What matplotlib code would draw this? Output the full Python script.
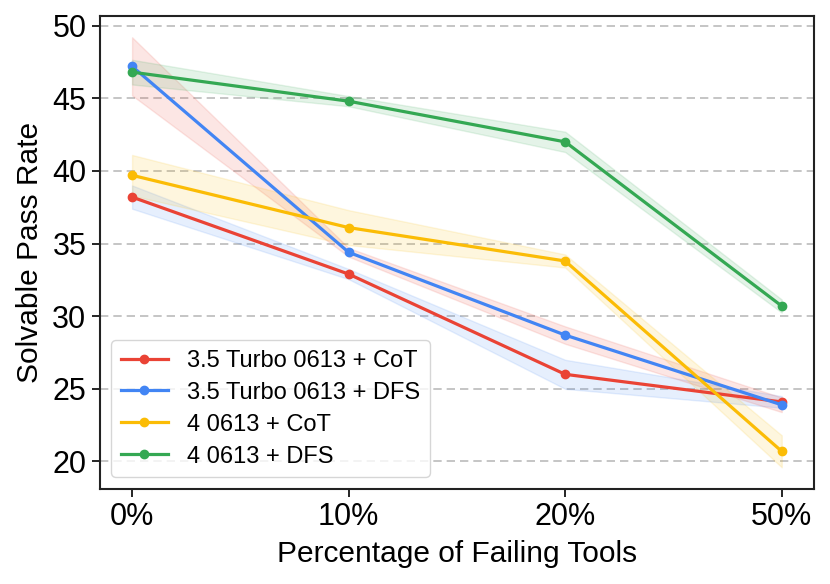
import matplotlib
matplotlib.use("Agg")
import matplotlib.pyplot as plt
import numpy as np

plt.rcParams['font.family'] = ['Liberation Sans', 'DejaVu Sans']

x_labels = ["0%", "10%", "20%", "50%"]
series_names = ["3.5 Turbo 0613 + CoT", "3.5 Turbo 0613 + DFS", "4 0613 + CoT", "4 0613 + DFS"]
colors = ["#EA4335", "#4285F4", "#FBBC05", "#34A853"]

turbo_cot = [38.2, 32.9, 26.0, 24.1]
turbo_dfs = [47.2, 34.4, 28.7, 23.9]
gpt4_cot = [39.7, 36.1, 33.8, 20.7]
gpt4_dfs = [46.8, 44.8, 42.0, 30.7]

turbo_cot_err = [0.8, 0.35, 1.0, 0.4]
turbo_dfs_err = [2.0, 0.3, 0.6, 0.5]
gpt4_cot_err = [1.4, 1.2, 0.45, 1.1]
gpt4_dfs_err = [0.85, 0.35, 0.7, 0.45]

values = [turbo_cot, turbo_dfs, gpt4_cot, gpt4_dfs]
errs = [turbo_cot_err, turbo_dfs_err, gpt4_cot_err, gpt4_dfs_err]
# band colours in the reference are swapped for the first two series
band_colors = [colors[1], colors[0], colors[2], colors[3]]

fig = plt.figure(figsize=(8.3, 5.84), dpi=100)
ax = fig.add_axes([0.12, 0.163, 0.861, 0.81])

xs = np.arange(len(x_labels))
for name, v, e, c, bc in zip(series_names, values, errs, colors, band_colors):
    v = np.array(v); e = np.array(e)
    ax.fill_between(xs, v - e, v + e, color=bc, alpha=0.13, linewidth=1)
    ax.plot(xs, v, color=c, marker='o', markersize=6, linewidth=2.3, label=name)

ax.set_xticks(xs)
ax.set_xticklabels(x_labels)
ax.set_yticks([20, 25, 30, 35, 40, 45, 50])
ax.tick_params(axis='both', labelsize=22, length=6, width=1.2)
ax.set_xlabel("Percentage of Failing Tools", fontsize=21.5, labelpad=6)
ax.set_ylabel("Solvable Pass Rate", fontsize=21.5, labelpad=6)
ax.yaxis.grid(True, linestyle=(0, (5, 3)), color='#bbbbbb', linewidth=1.2)
ax.set_axisbelow(True)
for s in ax.spines.values():
    s.set_linewidth(1.5)
    s.set_color('#222222')
ax.legend(loc='lower left', fontsize=17, framealpha=0.8, handlelength=2.0,
          borderaxespad=0.5, labelspacing=0.42)

fig.savefig("out.png", dpi=100)
